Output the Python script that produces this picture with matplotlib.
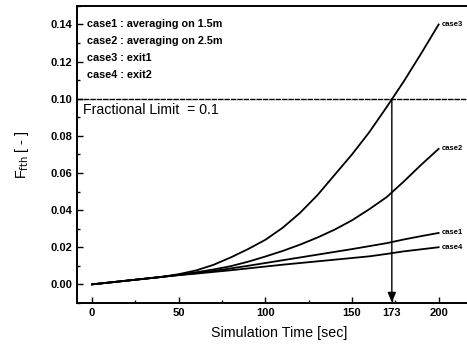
import matplotlib
matplotlib.use("Agg")
import matplotlib.pyplot as plt
from matplotlib.ticker import MultipleLocator

plt.rcParams['font.family'] = ['Liberation Sans', 'DejaVu Sans']

# simulation time [sec]
time = [0, 10, 20, 30, 40, 50, 60, 70, 80, 90, 100, 110, 120, 130, 140,
        150, 160, 170, 180, 190, 200]

# F_fth values
case3 = [0, 0.001, 0.002, 0.003, 0.004, 0.0055, 0.0075, 0.0105, 0.0145, 0.019,
         0.024, 0.0305, 0.0385, 0.048, 0.059, 0.070, 0.082, 0.0955, 0.1095, 0.1245, 0.140]
case2 = [0, 0.001, 0.002, 0.003, 0.004, 0.0052, 0.0065, 0.0080, 0.0098, 0.0122,
         0.015, 0.0180, 0.0214, 0.0252, 0.0295, 0.0345, 0.0405, 0.0470, 0.0555, 0.0645, 0.073]
case1 = [0, 0.001, 0.002, 0.003, 0.004, 0.005, 0.006, 0.0072, 0.0086, 0.0100,
         0.0115, 0.0130, 0.0145, 0.0160, 0.0175, 0.0190, 0.0206, 0.0222, 0.0242, 0.026, 0.0277]
case4 = [0, 0.001, 0.002, 0.003, 0.004, 0.005, 0.0058, 0.0067, 0.0076, 0.0086,
         0.0096, 0.0106, 0.0115, 0.0124, 0.0133, 0.0142, 0.0151, 0.0164, 0.0178, 0.0189, 0.0200]

curves = [("case3", case3), ("case2", case2), ("case1", case1), ("case4", case4)]
legend_lines = ["case1 : averaging on 1.5m", "case2 : averaging on 2.5m",
                "case3 : exit1", "case4 : exit2"]

limit = 0.1
t_limit = 173

fig = plt.figure(figsize=(4.67, 3.49), dpi=100)
ax = fig.add_axes([0.165, 0.132, 0.867, 0.851])

for name, vals in curves:
    ax.plot(time, vals, color='black', lw=1.3)
    ax.text(time[-1] + 2.0, vals[-1], name, fontsize=5.5, fontweight='bold',
            va='center', ha='left')

ax.axhline(limit, color='black', lw=1.0, ls=(0, (4, 0.6)))
ax.annotate("", xy=(t_limit, -0.0098), xytext=(t_limit, limit),
            arrowprops=dict(arrowstyle='-|>,head_width=0.25,head_length=0.6',
                            color='black', lw=1.0, shrinkA=0, shrinkB=0))
ax.text(-5.5, 0.0937, "Fractional Limit  = 0.1", fontsize=10.2, va='center')

for i, line in enumerate(legend_lines):
    ax.text(-3, 0.1403 - i * 0.0092, line, fontsize=7.8, fontweight='bold', va='center')

ax.set_xlim(-8.66, 225)
ax.set_ylim(-0.01, 0.15)
ax.set_xticks([0, 50, 100, 150, t_limit, 200])
ax.set_yticks([0.00, 0.02, 0.04, 0.06, 0.08, 0.10, 0.12, 0.14])
ax.set_yticklabels(["0.00", "0.02", "0.04", "0.06", "0.08", "0.10", "0.12", "0.14"])
ax.xaxis.set_minor_locator(MultipleLocator(25))
ax.yaxis.set_minor_locator(MultipleLocator(0.01))
ax.tick_params(which='both', direction='in', labelsize=8, width=1.0)
ax.tick_params(which='major', length=4)
ax.tick_params(which='minor', length=2.5)
for lbl in ax.get_xticklabels() + ax.get_yticklabels():
    lbl.set_fontweight('bold')
for s in ax.spines.values():
    s.set_linewidth(1.4)

ax.set_xlabel("Simulation Time [sec]", fontsize=10.3, labelpad=6)
ax.set_ylabel(r"F$_{\mathrm{fth}}$ [ - ]", fontsize=10.3, labelpad=14)

fig.savefig("out.png", dpi=100)
